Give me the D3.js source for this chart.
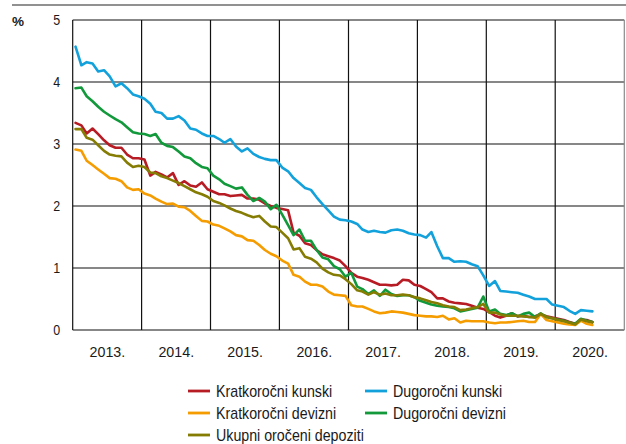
<!DOCTYPE html>
<html>
<head>
<meta charset="utf-8">
<script src="https://cdn.jsdelivr.net/npm/d3@7/dist/d3.min.js"></script>
<style>
  html, body { margin: 0; padding: 0; background: #fff; }
  svg { display: block; }
  text { font-family: "Liberation Sans", Arial, sans-serif; fill: #1a1a1a; }
</style>
</head>
<body>
<div id="chart"></div>
<script>
// Monthly interest rates on time deposits, January 2013 – July 2020 (%)
const startMonth = new Date(2013, 0, 1);
const endMonth = new Date(2020, 7, 1);
const yearLabels = ["2013.", "2014.", "2015.", "2016.", "2017.", "2018.", "2019.", "2020."];
const yTicks = [0, 1, 2, 3, 4, 5];

const kratkorocniKunski = [
  3.34, 3.30, 3.17, 3.25, 3.16, 3.06, 2.98, 2.94, 2.94, 2.83, 2.77, 2.77,
  2.75, 2.49, 2.55, 2.51, 2.46, 2.53, 2.34, 2.40, 2.33, 2.31, 2.38, 2.27,
  2.23, 2.19, 2.19, 2.16, 2.17, 2.18, 2.12, 2.12, 2.10, 2.04, 2.00, 1.97,
  1.95, 1.93, 1.57, 1.52, 1.40, 1.37, 1.29, 1.22, 1.19, 1.16, 1.12, 1.03,
  0.92, 0.86, 0.84, 0.81, 0.77, 0.73, 0.73, 0.72, 0.73, 0.81, 0.80, 0.73,
  0.71, 0.66, 0.61, 0.51, 0.51, 0.46, 0.44, 0.43, 0.42, 0.39, 0.36, 0.34,
  0.29, 0.23, 0.20, 0.23, 0.27, 0.22, 0.23, 0.21, 0.22, 0.25, 0.22, 0.20,
  0.18, 0.16, 0.13, 0.10, 0.17, 0.16, 0.13
];
const dugorocniKunski = [
  4.57, 4.27, 4.32, 4.30, 4.17, 4.19, 4.09, 3.93, 3.98, 3.90, 3.80, 3.77,
  3.73, 3.65, 3.52, 3.50, 3.41, 3.41, 3.45, 3.38, 3.25, 3.23, 3.17, 3.13,
  3.13, 3.08, 3.02, 3.08, 2.96, 2.88, 2.93, 2.84, 2.79, 2.76, 2.74, 2.74,
  2.62, 2.56, 2.45, 2.37, 2.29, 2.26, 2.14, 2.03, 1.93, 1.83, 1.78, 1.77,
  1.75, 1.71, 1.62, 1.58, 1.60, 1.58, 1.57, 1.61, 1.62, 1.60, 1.56, 1.54,
  1.53, 1.49, 1.58, 1.35, 1.16, 1.16, 1.10, 1.11, 1.10, 1.06, 1.03, 0.88,
  0.71, 0.79, 0.63, 0.62, 0.61, 0.60, 0.57, 0.54, 0.50, 0.50, 0.50, 0.41,
  0.39, 0.37, 0.31, 0.26, 0.32, 0.31, 0.30
];
const kratkorocniDevizni = [
  2.91, 2.89, 2.73, 2.66, 2.59, 2.52, 2.45, 2.44, 2.40, 2.30, 2.26, 2.27,
  2.20, 2.17, 2.12, 2.07, 2.03, 2.04, 1.99, 1.98, 1.92, 1.84, 1.76, 1.75,
  1.70, 1.68, 1.64, 1.59, 1.53, 1.51, 1.45, 1.44, 1.37, 1.29, 1.23, 1.19,
  1.12, 1.07, 0.89, 0.86, 0.78, 0.73, 0.73, 0.70, 0.62, 0.57, 0.56, 0.55,
  0.40, 0.38, 0.38, 0.34, 0.30, 0.27, 0.28, 0.30, 0.29, 0.28, 0.26, 0.24,
  0.23, 0.22, 0.22, 0.21, 0.23, 0.17, 0.19, 0.12, 0.15, 0.14, 0.14, 0.14,
  0.12, 0.11, 0.12, 0.12, 0.13, 0.14, 0.15, 0.13, 0.13, 0.26, 0.16, 0.14,
  0.12, 0.10, 0.09, 0.08, 0.15, 0.10, 0.08
];
const dugorocniDevizni = [
  3.90, 3.91, 3.77, 3.69, 3.60, 3.52, 3.46, 3.40, 3.35, 3.27, 3.19, 3.17,
  3.16, 3.13, 3.16, 3.02, 2.97, 2.95, 2.88, 2.80, 2.77, 2.69, 2.63, 2.61,
  2.49, 2.43, 2.36, 2.32, 2.28, 2.30, 2.18, 2.08, 2.13, 2.07, 1.95, 2.02,
  1.86, 1.69, 1.53, 1.62, 1.44, 1.44, 1.29, 1.17, 1.14, 1.03, 0.98, 0.86,
  0.92, 0.70, 0.66, 0.58, 0.64, 0.55, 0.65, 0.58, 0.55, 0.56, 0.56, 0.53,
  0.47, 0.44, 0.41, 0.39, 0.38, 0.37, 0.35, 0.30, 0.32, 0.34, 0.36, 0.54,
  0.30, 0.33, 0.26, 0.24, 0.27, 0.22, 0.26, 0.28, 0.21, 0.27, 0.21, 0.19,
  0.17, 0.15, 0.12, 0.10, 0.18, 0.15, 0.13
];
const ukupniOroceni = [
  3.24, 3.24, 3.10, 3.07, 2.98, 2.89, 2.83, 2.81, 2.80, 2.70, 2.63, 2.65,
  2.63, 2.54, 2.53, 2.48, 2.45, 2.41, 2.37, 2.32, 2.27, 2.22, 2.19, 2.15,
  2.08, 2.05, 2.01, 1.96, 1.92, 1.89, 1.85, 1.82, 1.84, 1.75, 1.67, 1.66,
  1.57, 1.48, 1.30, 1.32, 1.18, 1.15, 1.09, 0.99, 0.93, 0.89, 0.88, 0.82,
  0.74, 0.64, 0.62, 0.57, 0.61, 0.57, 0.59, 0.56, 0.56, 0.57, 0.56, 0.53,
  0.51, 0.48, 0.45, 0.43, 0.40, 0.38, 0.37, 0.32, 0.33, 0.35, 0.37, 0.42,
  0.28, 0.28, 0.25, 0.23, 0.23, 0.23, 0.22, 0.21, 0.20, 0.26, 0.21, 0.19,
  0.16, 0.14, 0.12, 0.09, 0.17, 0.14, 0.12
];

const seriesNames = ["Kratkoročni kunski", "Dugoročni kunski", "Kratkoročni devizni", "Dugoročni devizni", "Ukupni oročeni depoziti"];
const seriesColors = ["#b71c25", "#13a1db", "#f59c00", "#12993b", "#857c04"];
const seriesValues = [kratkorocniKunski, dugorocniKunski, kratkorocniDevizni, dugorocniDevizni, ukupniOroceni];

const W = 626, H = 444;
const plot = { left: 72.7, right: 624.3, top: 20, bottom: 330 };

const svg = d3.select("#chart").append("svg").attr("width", W).attr("height", H);

// mid-month positions for the monthly observations
const months = d3.timeMonth.range(startMonth, endMonth).map(d => new Date(d.getFullYear(), d.getMonth(), 16));
const years = d3.range(2013, 2021);

const x = d3.scaleTime()
  .domain([new Date(2013, 0, 1), new Date(2021, 0, 1)])
  .range([plot.left, plot.right]);
const y = d3.scaleLinear().domain([0, 5]).range([plot.bottom, plot.top]);

// condensed lettering: squeeze text horizontally around its anchor point
function condense(sel, k) {
  sel.each(function () {
    const t = d3.select(this);
    const ax = +t.attr("x") || 0;
    const ay = +t.attr("y") || 0;
    t.attr("transform", `translate(${ax},${ay}) scale(${k},1) translate(${-ax},${-ay})`);
  });
}

// header rule
svg.append("line")
  .attr("x1", 12).attr("x2", W).attr("y1", 5).attr("y2", 5)
  .attr("stroke", "#6d6d6d").attr("stroke-width", 1.5);

// unit label
svg.append("text")
  .attr("x", 12).attr("y", 26)
  .style("font-size", "13.5px").style("font-weight", "bold")
  .text("%");

// grid
const grid = svg.append("g");
grid.selectAll("line.h").data(yTicks).join("line")
  .attr("class", "h")
  .attr("x1", plot.left).attr("x2", plot.right)
  .attr("y1", d => y(d)).attr("y2", d => y(d))
  .attr("stroke", "#111").attr("stroke-width", 1.2);
grid.selectAll("line.v").data(years.concat([2021])).join("line")
  .attr("class", "v")
  .attr("x1", d => x(new Date(d, 0, 1))).attr("x2", d => x(new Date(d, 0, 1)))
  .attr("y1", plot.top).attr("y2", plot.bottom)
  .attr("stroke", d => d === 2021 ? "#8a8a8a" : "#111").attr("stroke-width", 1.2);

// y axis labels
const yAxis = d3.axisLeft(y).tickValues(yTicks).tickFormat(d3.format("d")).tickSize(0).tickPadding(0);
const yg = svg.append("g").attr("transform", `translate(${plot.left - 12.5},0)`).call(yAxis);
yg.select(".domain").remove();
yg.selectAll("text")
  .style("font-size", "14.5px")
  .style("font-family", '"Liberation Sans", Arial, sans-serif')
  .attr("fill", "#1a1a1a")
  .call(condense, 0.86);

// x axis labels, centred in each year
const xAxis = d3.axisBottom(x)
  .tickValues(years.map(yr => new Date(yr, 6, 1)))
  .tickFormat((d, i) => yearLabels[i])
  .tickSize(0).tickPadding(0);
const xg = svg.append("g").attr("transform", `translate(0,${plot.bottom + 16})`).call(xAxis);
xg.select(".domain").remove();
xg.selectAll("text")
  .style("font-size", "15.5px")
  .style("font-family", '"Liberation Sans", Arial, sans-serif')
  .attr("fill", "#1a1a1a")
  .call(condense, 0.92);

// series lines
const line = d3.line()
  .x((d, i) => x(months[i]))
  .y(d => y(d));

svg.append("g").selectAll("path").data(seriesValues).join("path")
  .attr("d", d => line(d))
  .attr("fill", "none")
  .attr("stroke", (d, i) => seriesColors[i])
  .attr("stroke-width", 2.6)
  .attr("stroke-linejoin", "round")
  .attr("stroke-linecap", "round");

// legend
const legendPos = [
  { x: 188, y: 391 }, { x: 365, y: 391 },
  { x: 188, y: 413 }, { x: 365, y: 413 },
  { x: 188, y: 435 }
];
const legend = svg.append("g");
const items = legend.selectAll("g").data(seriesNames).join("g")
  .attr("transform", (d, i) => `translate(${legendPos[i].x},${legendPos[i].y})`);
items.append("line")
  .attr("x1", 0).attr("x2", 22).attr("y1", 0).attr("y2", 0)
  .attr("stroke", (d, i) => seriesColors[i]).attr("stroke-width", 2.8);
items.append("text")
  .attr("x", 28).attr("y", 6)
  .style("font-size", "16px")
  .text(d => d)
  .call(condense, 0.89);
</script>
</body>
</html>
